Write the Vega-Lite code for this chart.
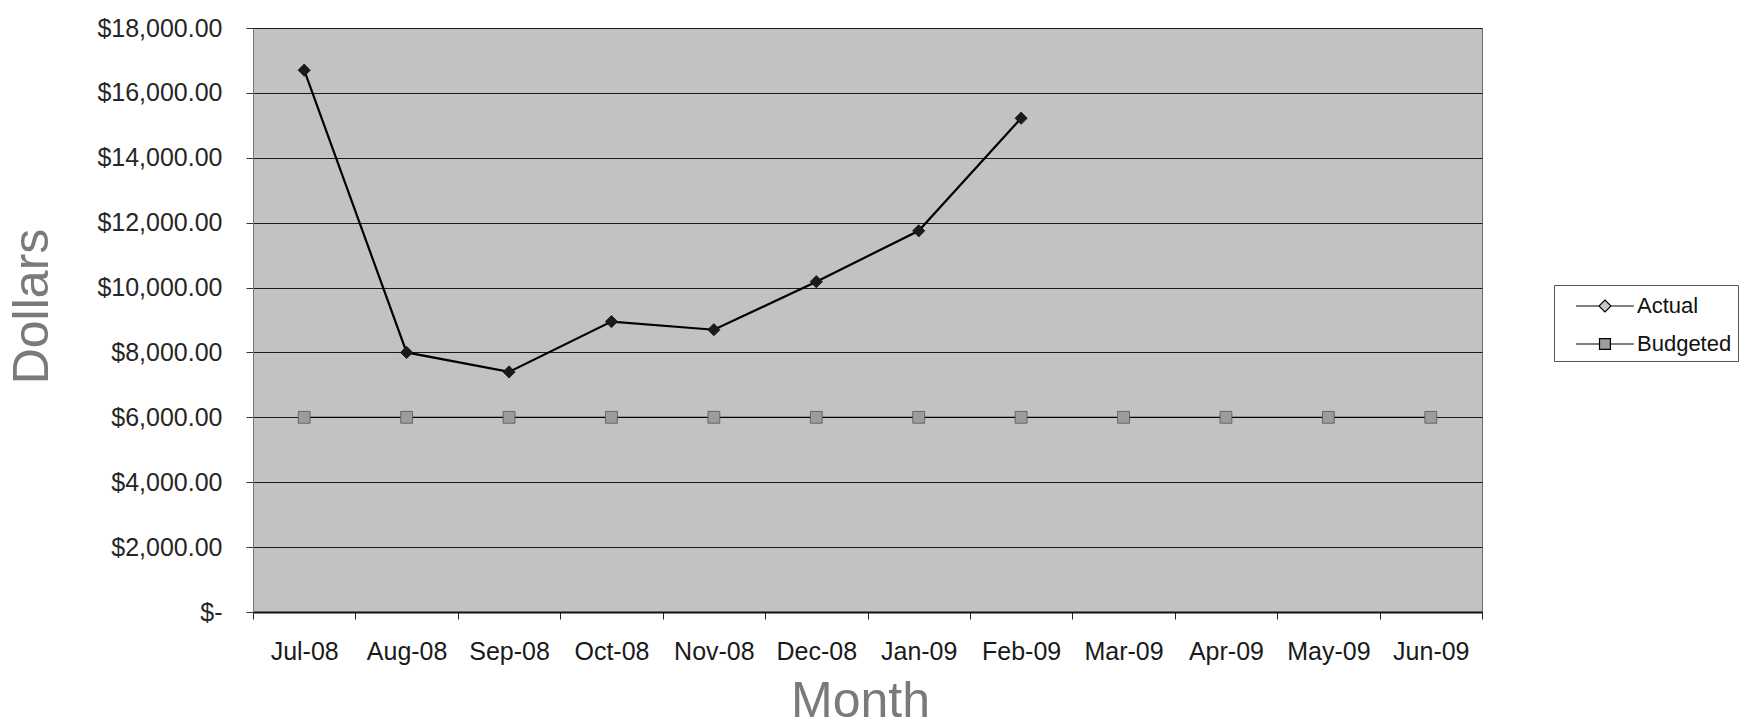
{
  "$schema": "https://vega.github.io/schema/vega-lite/v6.json",
  "width": 1229,
  "height": 584,
  "autosize": {"type": "none"},
  "padding": {"left": 253, "top": 28, "right": 277, "bottom": 115},
  "background": "white",
  "config": {
    "font": "Liberation Sans",
    "view": {"fill": "#c2c2c2", "stroke": "#6a6a6a", "strokeWidth": 1}
  },
  "data": {
    "values": [
      {"month": "Jul-08", "series": "Actual", "value": 16700},
      {"month": "Aug-08", "series": "Actual", "value": 8000},
      {"month": "Sep-08", "series": "Actual", "value": 7400},
      {"month": "Oct-08", "series": "Actual", "value": 8950},
      {"month": "Nov-08", "series": "Actual", "value": 8700},
      {"month": "Dec-08", "series": "Actual", "value": 10180},
      {"month": "Jan-09", "series": "Actual", "value": 11750},
      {"month": "Feb-09", "series": "Actual", "value": 15220},
      {"month": "Jul-08", "series": "Budgeted", "value": 6000},
      {"month": "Aug-08", "series": "Budgeted", "value": 6000},
      {"month": "Sep-08", "series": "Budgeted", "value": 6000},
      {"month": "Oct-08", "series": "Budgeted", "value": 6000},
      {"month": "Nov-08", "series": "Budgeted", "value": 6000},
      {"month": "Dec-08", "series": "Budgeted", "value": 6000},
      {"month": "Jan-09", "series": "Budgeted", "value": 6000},
      {"month": "Feb-09", "series": "Budgeted", "value": 6000},
      {"month": "Mar-09", "series": "Budgeted", "value": 6000},
      {"month": "Apr-09", "series": "Budgeted", "value": 6000},
      {"month": "May-09", "series": "Budgeted", "value": 6000},
      {"month": "Jun-09", "series": "Budgeted", "value": 6000}
    ]
  },
  "encoding": {
    "x": {
      "field": "month",
      "type": "ordinal",
      "sort": ["Jul-08", "Aug-08", "Sep-08", "Oct-08", "Nov-08", "Dec-08", "Jan-09", "Feb-09", "Mar-09", "Apr-09", "May-09", "Jun-09"],
      "scale": {"type": "band", "paddingInner": 0, "paddingOuter": 0},
      "axis": {
        "title": "Month",
        "titleFontSize": 50,
        "titleFontWeight": "normal",
        "titleColor": "#7a7a7a",
        "titleX": 607,
        "titleY": 104,
        "titleAlign": "center",
        "titleBaseline": "alphabetic",
        "labelAngle": 0,
        "labelFontSize": 25,
        "labelColor": "#1a1a1a",
        "labelPadding": 20,
        "tickBand": "extent",
        "tickSize": 7,
        "tickColor": "#222",
        "domainColor": "#111",
        "domainWidth": 2,
        "grid": false
      }
    },
    "y": {
      "field": "value",
      "type": "quantitative",
      "scale": {"domain": [0, 18000], "nice": false},
      "axis": {
        "title": "Dollars",
        "titleFontSize": 50,
        "titleFontWeight": "normal",
        "titleColor": "#7a7a7a",
        "titleAngle": -90,
        "titleX": -206,
        "titleY": 278,
        "titleAlign": "center",
        "titleBaseline": "alphabetic",
        "values": [0, 2000, 4000, 6000, 8000, 10000, 12000, 14000, 16000, 18000],
        "labelExpr": "datum.value === 0 ? '$-' : format(datum.value, '$,.2f')",
        "labelFontSize": 25,
        "labelColor": "#262626",
        "labelPadding": 24,
        "tickSize": 7,
        "tickColor": "#333",
        "domainColor": "#777",
        "grid": true,
        "gridColor": "#1a1a1a",
        "gridWidth": 1.2
      }
    }
  },
  "layer": [
    {
      "transform": [{"filter": "datum.series === 'Actual'"}],
      "mark": {"type": "line", "color": "#000", "strokeWidth": 2.2},
      "encoding": {}
    },
    {
      "transform": [{"filter": "datum.series === 'Budgeted'"}],
      "mark": {"type": "line", "color": "#000", "strokeWidth": 1.4},
      "encoding": {}
    },
    {
      "transform": [{"filter": "datum.series === 'Actual'"}],
      "mark": {"type": "point", "shape": "diamond", "filled": true, "opacity": 1, "size": 150, "fill": "#1a1a1a", "stroke": "#111", "strokeWidth": 0.8}
    },
    {
      "transform": [{"filter": "datum.series === 'Budgeted'"}],
      "mark": {"type": "point", "shape": "square", "filled": true, "opacity": 1, "size": 140, "fill": "#9c9c9c", "stroke": "#555", "strokeWidth": 0.8}
    },
    {
      "transform": [{"filter": "datum.value < 0"}],
      "mark": {"type": "point", "filled": true, "opacity": 1},
      "encoding": {
        "shape": {
          "field": "series",
          "type": "nominal",
          "scale": {"domain": ["Actual", "Budgeted"], "range": ["M0.07,0L1.71,0M2.14,-0.43L2.57,0L2.14,0.43L1.71,0ZM2.57,0L4.2,0", "M0.07,0L1.75,0M1.75,-0.39L2.53,-0.39L2.53,0.39L1.75,0.39ZM2.53,0L4.2,0"]},
          "legend": {
            "title": null,
            "orient": "none",
            "legendX": 1301,
            "legendY": 257,
            "padding": 6,
            "strokeColor": "#555",
            "fillColor": "white",
            "symbolSize": 784,
            "symbolStrokeColor": "#000",
            "symbolStrokeWidth": 1.2,
            "labelFontSize": 22,
            "labelColor": "#111",
            "labelOffset": 47,
            "rowPadding": 12
          }
        },
        "color": {
          "field": "series",
          "type": "nominal",
          "scale": {"domain": ["Actual", "Budgeted"], "range": ["#c8c8c8", "#9c9c9c"]},
          "legend": {
            "title": null,
            "orient": "none",
            "legendX": 1301,
            "legendY": 257,
            "padding": 6,
            "strokeColor": "#555",
            "fillColor": "white",
            "symbolSize": 784,
            "symbolStrokeColor": "#000",
            "symbolStrokeWidth": 1.2,
            "labelFontSize": 22,
            "labelColor": "#111",
            "labelOffset": 47,
            "rowPadding": 12
          }
        }
      }
    }
  ]
}
